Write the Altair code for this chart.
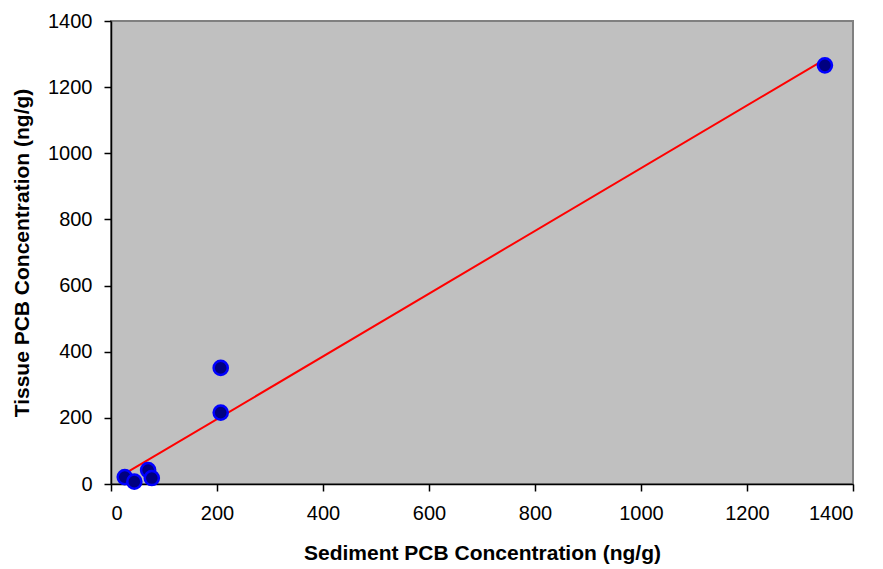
import altair as alt
import pandas as pd

sediment = [26, 44, 70, 77, 207, 207, 1347]
tissue = [21, 7, 42, 18, 351, 216, 1266]

df = pd.DataFrame({"sediment": sediment, "tissue": tissue})

x = alt.X("sediment:Q", title="Sediment PCB Concentration (ng/g)",
          scale=alt.Scale(domain=[0, 1400], nice=False),
          axis=alt.Axis(values=list(range(0, 1401, 200)), grid=False, format="d",
                        domainColor="black", tickColor="black", tickSize=7,
                        labelPadding=12, titlePadding=19))
y = alt.Y("tissue:Q", title="Tissue PCB Concentration (ng/g)",
          scale=alt.Scale(domain=[0, 1400], nice=False),
          axis=alt.Axis(values=list(range(0, 1401, 200)), grid=False, format="d",
                        domainColor="black", tickColor="black", tickSize=7,
                        labelPadding=12, titlePadding=15))

base = alt.Chart(df)

points = base.mark_point(filled=True, shape="circle", size=200, color="#000080",
                         stroke="#0000FF", strokeWidth=2.5, opacity=1).encode(x=x, y=y)

line = base.transform_regression("sediment", "tissue").mark_line(
    color="#FF0000", strokeWidth=2).encode(x=x, y=y)

chart = alt.layer(line, points).properties(
    width=742, height=463,
    autosize=alt.AutoSizeParams(type="none"),
    padding={"left": 103, "top": 13, "right": 22, "bottom": 80},
    background="white",
).configure_view(
    fill="#C0C0C0", stroke="#808080", strokeWidth=2
).configure_axis(
    labelFont="Liberation Sans", labelFontSize=20, labelColor="black",
    titleFont="Liberation Sans", titleFontSize=21, titleFontWeight="bold",
    titleColor="black", domainWidth=1.5, tickWidth=1.5
)

chart.save("out.html", embed_options={"renderer": "svg", "actions": False})
